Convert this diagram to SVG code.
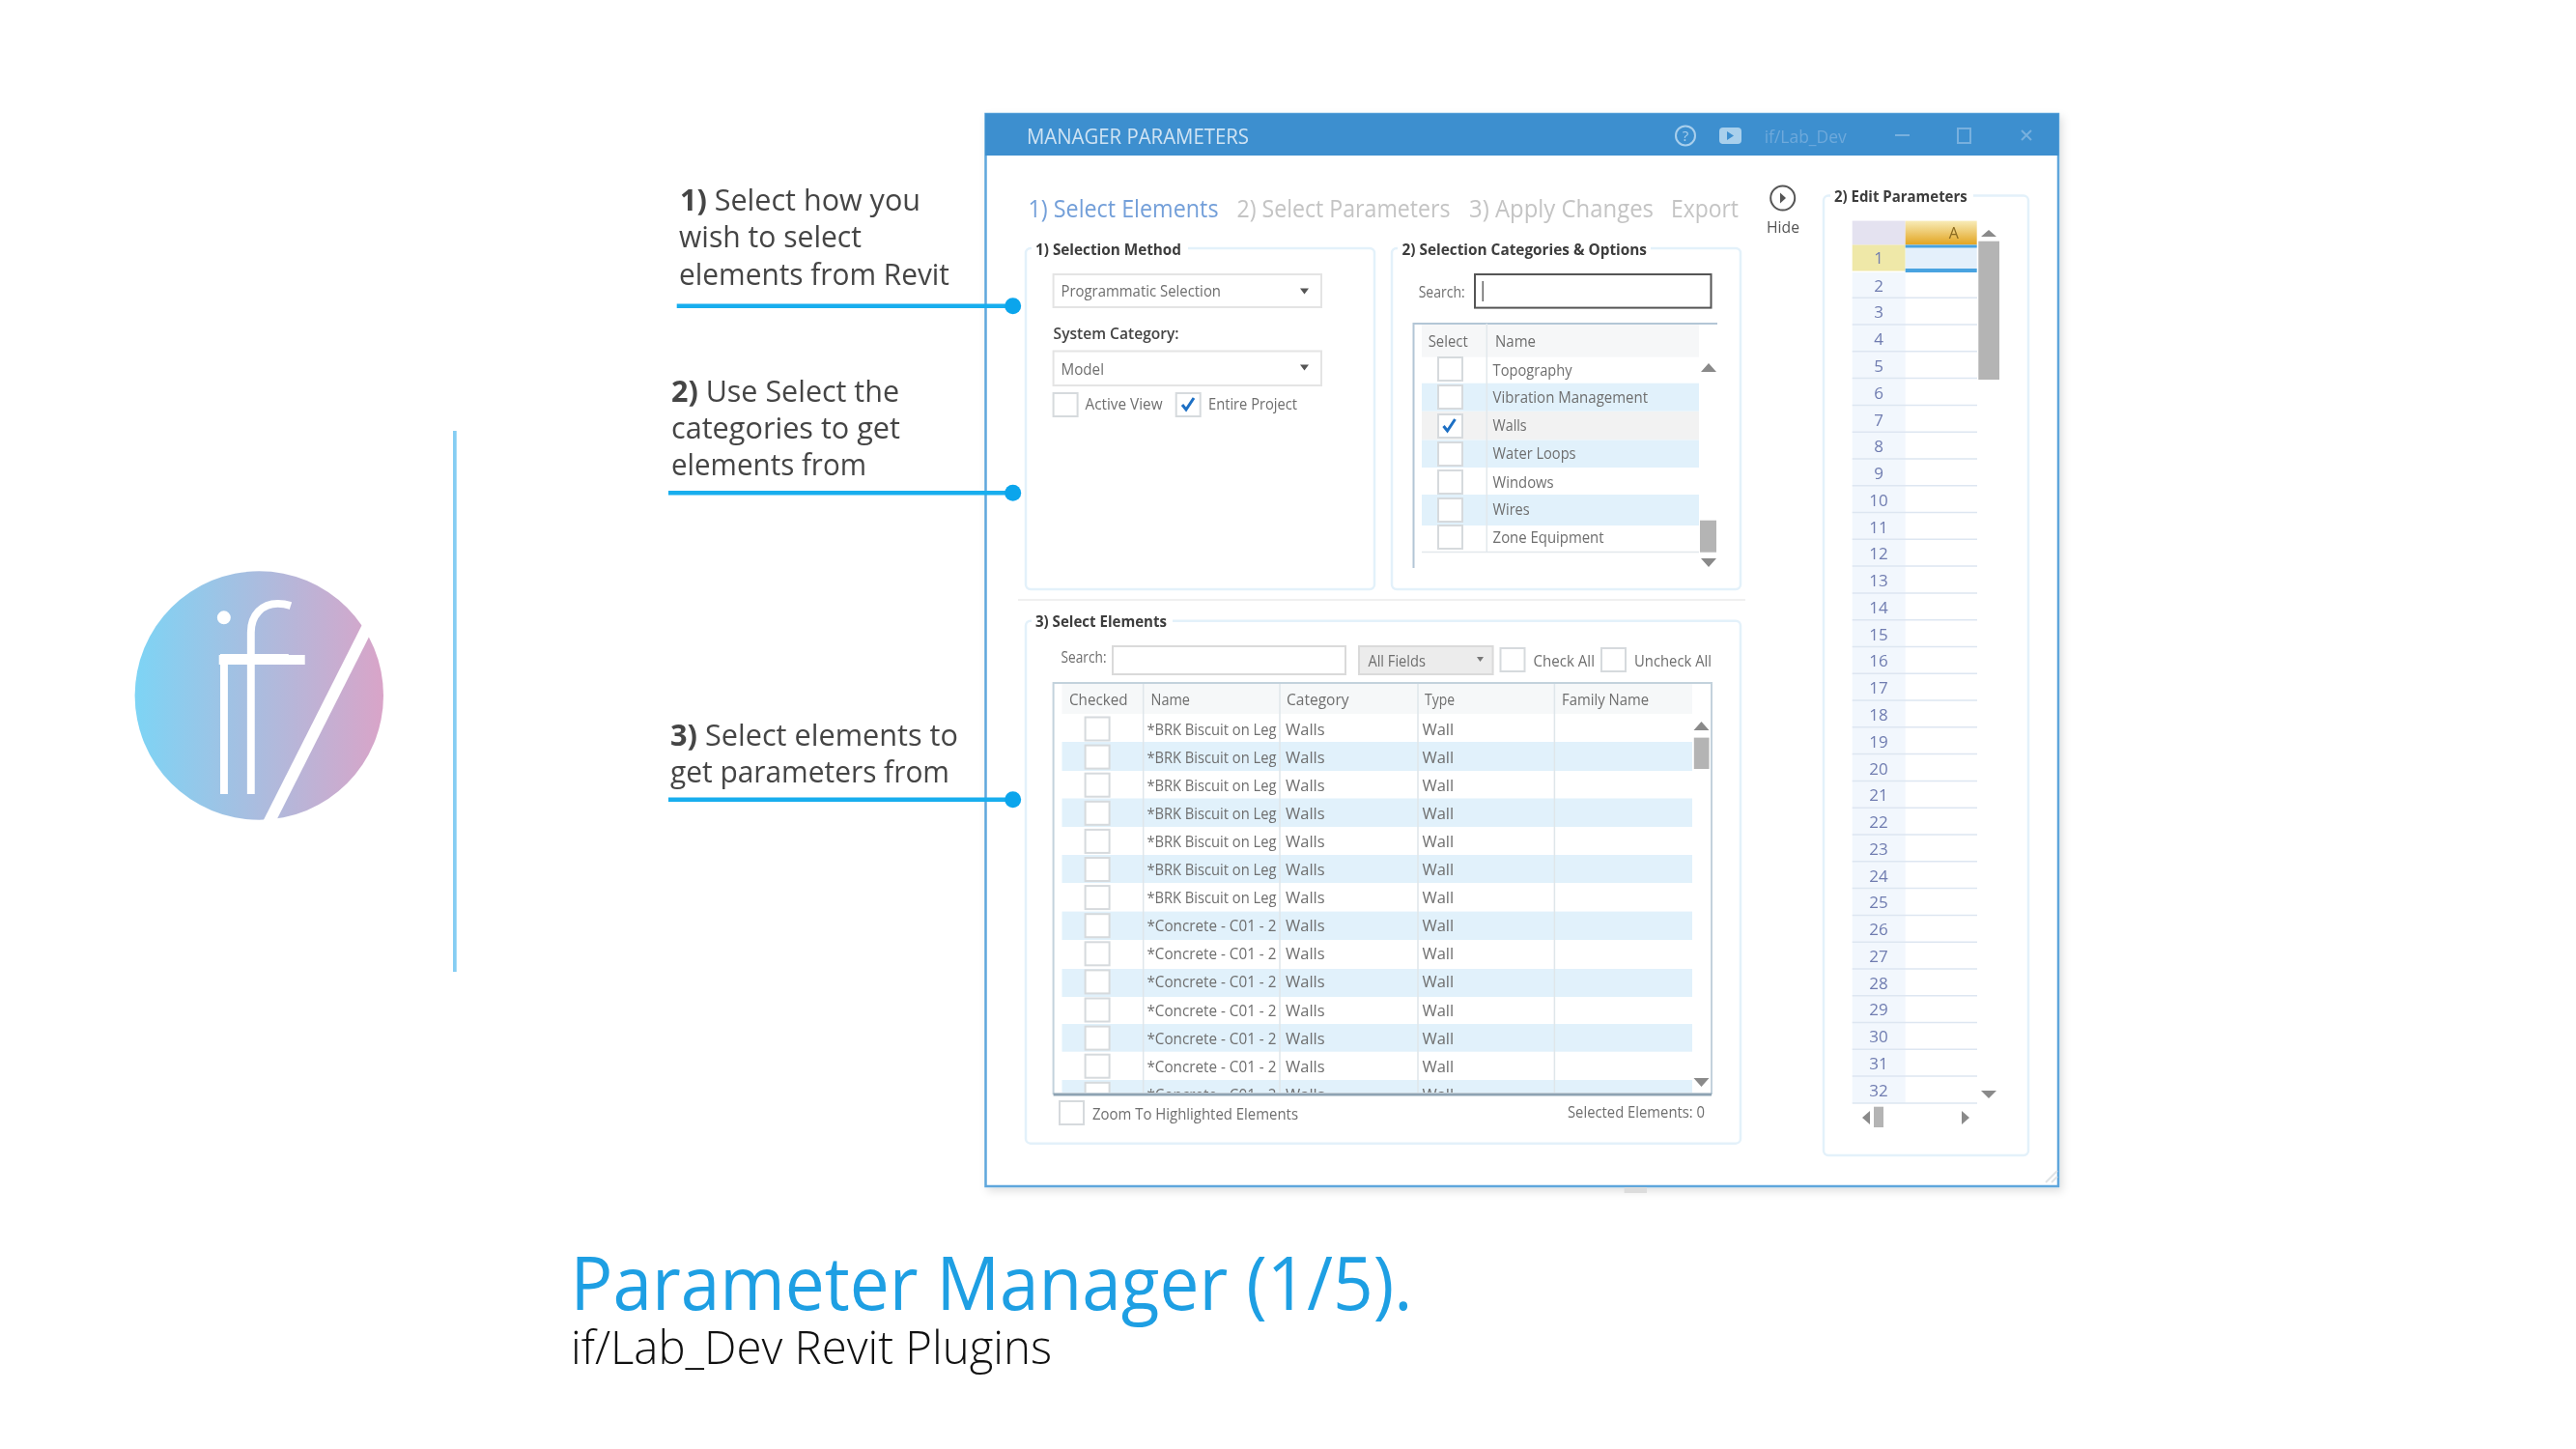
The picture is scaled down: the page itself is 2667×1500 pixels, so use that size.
<svg xmlns="http://www.w3.org/2000/svg" xmlns:xlink="http://www.w3.org/1999/xlink" width="2667" height="1500" viewBox="0 0 2667 1500">
<style>
text{font-family:"Open Sans","Noto Sans","Liberation Sans",sans-serif}
.call{font-size:31px;fill:#454545}
.bold{font-weight:700}
.ui{font-size:16.5px;fill:#6e6e6e}
.hd{font-size:16px;font-weight:700;fill:#3c3c3c}
.tab{font-size:25px;fill:#c4c4c4}
.num{font-size:17px;fill:#6f7cb0;text-anchor:middle}
.panel{fill:#fff;stroke:#e3f1fa;stroke-width:2.5}
.cb{fill:#fff;stroke:#d6dadd;stroke-width:2}
.blue{fill:#e1f1fb}
.tri{fill:#8a8a8a}
.conn{stroke:#18aeee;stroke-width:4.5;fill:none}
.dot{fill:#0ba5ec}
</style>
<defs>
<linearGradient id="lg" x1="0" x2="1" y1="0" y2="0"><stop offset="0" stop-color="#7dd4f5"/><stop offset="1" stop-color="#d9a4c8"/></linearGradient>
<linearGradient id="ah" x1="0" x2="0" y1="0" y2="1"><stop offset="0" stop-color="#f8ecb8"/><stop offset="1" stop-color="#e2a41f"/></linearGradient>
<filter id="soft" x="-2%" y="-2%" width="104%" height="104%"><feGaussianBlur stdDeviation="0.75"/></filter>
<filter id="sh" x="-3%" y="-3%" width="106%" height="106%"><feDropShadow dx="3" dy="4" stdDeviation="4" flood-color="#000" flood-opacity="0.12"/></filter>
<clipPath id="gridclip"><rect x="1091" y="707" width="681" height="424"/></clipPath>
<rect id="c" class="cb" width="25" height="24"/>
</defs>
<rect width="2667" height="1500" fill="#fff"/>

<g id="logo">
<circle cx="268.3" cy="720" r="128.7" fill="url(#lg)"/>
<text x="203.7 227.7" y="821" stroke="#fff" stroke-width="2" style="font-family:Inter,Lato,sans-serif;font-weight:100;font-size:262px;fill:#fff">if</text>
<rect x="226.7" y="678" width="89" height="10" fill="#fff"/>
<line x1="385" y1="640" x2="273" y2="862" stroke="#fff" stroke-width="12"/>
</g>
<rect id="divider" x="469" y="446" width="3.7" height="560" fill="#85cdf3"/>

<g id="window" filter="url(#sh)">
<rect x="1020.5" y="118" width="1110.5" height="1110" fill="#fff" stroke="#5ea6dc" stroke-width="2.5"/>
</g>
<g id="ui" filter="url(#soft)">
<g id="titlebar">
<rect x="1020" y="117.5" width="1111.5" height="43.5" fill="#3d8fcf"/>
<text x="1063" y="149" font-size="21" fill="#cfe3f3" textLength="230" lengthAdjust="spacingAndGlyphs">MANAGER PARAMETERS</text>
<ellipse cx="1745" cy="140.4" rx="10" ry="10" fill="none" stroke="#a9cfec" stroke-width="2"/>
<text x="1745" y="146" font-size="15" fill="#a9cfec" text-anchor="middle">?</text>
<rect x="1780" y="132" width="23" height="17" rx="4" fill="#a9d0ec"/>
<path d="M1788 136l7 4.5-7 4.5z" fill="#3d8fcf"/>
<text x="1826.7" y="148" font-size="19" fill="#6ea9db" textLength="85" lengthAdjust="spacingAndGlyphs">if/Lab_Dev</text>
<rect x="1962" y="139" width="15" height="2" fill="#78b0de"/>
<rect x="2027" y="133" width="13" height="15" fill="none" stroke="#78b0de" stroke-width="2"/>
<path d="M2093 135l10 10M2103 135l-10 10" stroke="#78b0de" stroke-width="2" fill="none"/>
</g>
<g id="tabs">
<text class="tab" x="1064.5" y="225" style="fill:#739fd9" textLength="197" lengthAdjust="spacingAndGlyphs">1) Select Elements</text>
<text class="tab" x="1280.5" y="225" textLength="221" lengthAdjust="spacingAndGlyphs">2) Select Parameters</text>
<text class="tab" x="1521" y="225" textLength="191" lengthAdjust="spacingAndGlyphs">3) Apply Changes</text>
<text class="tab" x="1730" y="225" textLength="70" lengthAdjust="spacingAndGlyphs">Export</text>
</g>
<g id="hide">
<circle cx="1845.7" cy="205" r="12.5" fill="none" stroke="#555" stroke-width="2"/>
<path d="M1843 199.5l6 5.5-6 5.5z" fill="#555"/>
<text x="1829" y="241" font-size="17" fill="#555" textLength="34" lengthAdjust="spacingAndGlyphs">Hide</text>
</g>
<path d="M1054 621H1807" stroke="#f0f0f0" stroke-width="2"/>

<g id="selection-method">
<rect class="panel" x="1062" y="257" width="361" height="353" rx="5"/>
<rect x="1068" y="250" width="162" height="14" fill="#fff"/>
<text class="hd" x="1072" y="264" textLength="151" lengthAdjust="spacingAndGlyphs">1) Selection Method</text>
<rect x="1090.6" y="284" width="277.4" height="34" fill="#fff" stroke="#e4e4e4" stroke-width="2"/>
<text class="ui" x="1098.5" y="307" textLength="165.5" lengthAdjust="spacingAndGlyphs">Programmatic Selection</text>
<path d="M1346 298.5h9l-4.5 6z" fill="#555"/>
<text class="ui" x="1090.6" y="350.7" style="font-weight:600;fill:#444" textLength="130" lengthAdjust="spacingAndGlyphs">System Category:</text>
<rect x="1090.6" y="363.5" width="277.4" height="35.5" fill="#fff" stroke="#e4e4e4" stroke-width="2"/>
<text class="ui" x="1098.5" y="388" textLength="44.5" lengthAdjust="spacingAndGlyphs">Model</text>
<path d="M1346 377.5h9l-4.5 6z" fill="#555"/>
<use href="#c" x="1090.6" y="407"/>
<text class="ui" x="1123.5" y="424.4" textLength="80" lengthAdjust="spacingAndGlyphs">Active View</text>
<use href="#c" x="1217.7" y="407"/>
<path d="M1224 419l4 5 8-12" fill="none" stroke="#1f6fc4" stroke-width="3"/>
<text class="ui" x="1251" y="424.4" textLength="92" lengthAdjust="spacingAndGlyphs">Entire Project</text>
</g>

<g id="selection-categories">
<rect class="panel" x="1441" y="257" width="361" height="353" rx="5"/>
<rect x="1447" y="250" width="262" height="14" fill="#fff"/>
<text class="hd" x="1451.5" y="264" textLength="253.5" lengthAdjust="spacingAndGlyphs">2) Selection Categories &amp; Options</text>
<text class="ui" x="1468.7" y="307.8" textLength="48" lengthAdjust="spacingAndGlyphs">Search:</text>
<rect x="1527" y="284" width="244.5" height="34.6" fill="#fff" stroke="#555" stroke-width="2"/>
<rect x="1534.5" y="291" width="1.5" height="21" fill="#666"/>
<rect x="1472" y="335" width="287" height="34.6" fill="#f6f7f8"/>
<rect class="blue" x="1472" y="396.7" width="287" height="29"/>
<rect x="1472" y="426" width="287" height="29.5" fill="#f2f2f2"/>
<rect class="blue" x="1472" y="455.5" width="287" height="28.5"/>
<rect class="blue" x="1472" y="512" width="287" height="32"/>
<path d="M1463.5 588V335H1778" fill="none" stroke="#b3c6d6" stroke-width="2"/>
<path d="M1539.3 335V571.5M1472 571.5H1759" stroke="#e2e8ec" stroke-width="1.5" fill="none"/>
<text class="ui" x="1478.7" y="358.5" textLength="41" lengthAdjust="spacingAndGlyphs">Select</text>
<text class="ui" x="1548" y="358.5" textLength="42" lengthAdjust="spacingAndGlyphs">Name</text>
<use href="#c" x="1489" y="370"/><use href="#c" x="1489" y="399"/><use href="#c" x="1489" y="429"/><use href="#c" x="1489" y="458"/><use href="#c" x="1489" y="487"/><use href="#c" x="1489" y="516"/><use href="#c" x="1489" y="544"/>
<path d="M1494.5 441l4 5 8-12" fill="none" stroke="#1f6fc4" stroke-width="3"/>
<text class="ui" x="1545.6" y="389" textLength="82" lengthAdjust="spacingAndGlyphs">Topography</text>
<text class="ui" x="1545.6" y="417" textLength="160.5" lengthAdjust="spacingAndGlyphs">Vibration Management</text>
<text class="ui" x="1545.6" y="446" textLength="35" lengthAdjust="spacingAndGlyphs">Walls</text>
<text class="ui" x="1545.6" y="475" textLength="86" lengthAdjust="spacingAndGlyphs">Water Loops</text>
<text class="ui" x="1545.6" y="504.5" textLength="63" lengthAdjust="spacingAndGlyphs">Windows</text>
<text class="ui" x="1545.6" y="533" textLength="38" lengthAdjust="spacingAndGlyphs">Wires</text>
<text class="ui" x="1545.6" y="562" textLength="115" lengthAdjust="spacingAndGlyphs">Zone Equipment</text>
<rect x="1760" y="538.7" width="17" height="33" fill="#b4b4b4"/>
<path class="tri" d="M1761 385h16l-8-9zM1761 578h16l-8 9z"/>
</g>

<g id="select-elements">
<rect class="panel" x="1062" y="642.7" width="740" height="541" rx="5"/>
<rect x="1068" y="636" width="146" height="14" fill="#fff"/>
<text class="hd" x="1072" y="649" textLength="136" lengthAdjust="spacingAndGlyphs">3) Select Elements</text>
<text class="ui" x="1098.5" y="686" textLength="47" lengthAdjust="spacingAndGlyphs">Search:</text>
<rect x="1152" y="669" width="241" height="29" fill="#fff" stroke="#dadada" stroke-width="2"/>
<rect x="1407" y="669" width="138.6" height="29" fill="#ececec" stroke="#dadada" stroke-width="2"/>
<text class="ui" x="1416.4" y="690" textLength="59.6" lengthAdjust="spacingAndGlyphs">All Fields</text>
<path d="M1529 680h7l-3.5 5z" fill="#777"/>
<use href="#c" x="1553.5" y="671"/>
<text class="ui" x="1587.5" y="690" textLength="63.5" lengthAdjust="spacingAndGlyphs">Check All</text>
<use href="#c" x="1658" y="671"/>
<text class="ui" x="1692" y="690" textLength="80" lengthAdjust="spacingAndGlyphs">Uncheck All</text>
<rect x="1099.5" y="707" width="652.5" height="32" fill="#f6f8f9"/>
<g clip-path="url(#gridclip)">
<rect class="blue" x="1099.5" y="768" width="652.5" height="30"/>
<rect class="blue" x="1099.5" y="826.5" width="652.5" height="29.5"/>
<rect class="blue" x="1099.5" y="885" width="652.5" height="29"/>
<rect class="blue" x="1099.5" y="943.6" width="652.5" height="29.4"/>
<rect class="blue" x="1099.5" y="1003" width="652.5" height="29"/>
<rect class="blue" x="1099.5" y="1060" width="652.5" height="28.7"/>
<rect class="blue" x="1099.5" y="1118" width="652.5" height="15"/>
<path d="M1183.7 707V1133M1325 707V1133M1468 707V1133M1609.4 707V1133" stroke="#dfe6ea" stroke-width="1.5" fill="none"/>
<use href="#c" x="1123.6" y="742.5"/><use href="#c" x="1123.6" y="771.6"/><use href="#c" x="1123.6" y="800.7"/><use href="#c" x="1123.6" y="829.8"/><use href="#c" x="1123.6" y="858.9"/><use href="#c" x="1123.6" y="888"/><use href="#c" x="1123.6" y="917.1"/><use href="#c" x="1123.6" y="946.2"/><use href="#c" x="1123.6" y="975.3"/><use href="#c" x="1123.6" y="1004.4"/><use href="#c" x="1123.6" y="1033.5"/><use href="#c" x="1123.6" y="1062.6"/><use href="#c" x="1123.6" y="1091.7"/><use href="#c" x="1123.6" y="1120.8"/>
<text class="ui" x="1187.4" y="760.5" textLength="134" lengthAdjust="spacingAndGlyphs">*BRK Biscuit on Leg</text>
<text class="ui" x="1187.4" y="789.6" textLength="134" lengthAdjust="spacingAndGlyphs">*BRK Biscuit on Leg</text>
<text class="ui" x="1187.4" y="818.7" textLength="134" lengthAdjust="spacingAndGlyphs">*BRK Biscuit on Leg</text>
<text class="ui" x="1187.4" y="847.8" textLength="134" lengthAdjust="spacingAndGlyphs">*BRK Biscuit on Leg</text>
<text class="ui" x="1187.4" y="876.9" textLength="134" lengthAdjust="spacingAndGlyphs">*BRK Biscuit on Leg</text>
<text class="ui" x="1187.4" y="906" textLength="134" lengthAdjust="spacingAndGlyphs">*BRK Biscuit on Leg</text>
<text class="ui" x="1187.4" y="935.1" textLength="134" lengthAdjust="spacingAndGlyphs">*BRK Biscuit on Leg</text>
<text class="ui" x="1187.4" y="964.2" textLength="134" lengthAdjust="spacingAndGlyphs">*Concrete - C01 - 2</text>
<text class="ui" x="1187.4" y="993.3" textLength="134" lengthAdjust="spacingAndGlyphs">*Concrete - C01 - 2</text>
<text class="ui" x="1187.4" y="1022.4" textLength="134" lengthAdjust="spacingAndGlyphs">*Concrete - C01 - 2</text>
<text class="ui" x="1187.4" y="1051.5" textLength="134" lengthAdjust="spacingAndGlyphs">*Concrete - C01 - 2</text>
<text class="ui" x="1187.4" y="1080.6" textLength="134" lengthAdjust="spacingAndGlyphs">*Concrete - C01 - 2</text>
<text class="ui" x="1187.4" y="1109.7" textLength="134" lengthAdjust="spacingAndGlyphs">*Concrete - C01 - 2</text>
<text class="ui" x="1187.4" y="1138.8" textLength="134" lengthAdjust="spacingAndGlyphs">*Concrete - C01 - 2</text>
<text class="ui" x="1331" y="760.5">Walls</text><text class="ui" x="1472.4" y="760.5">Wall</text>
<text class="ui" x="1331" y="789.6">Walls</text><text class="ui" x="1472.4" y="789.6">Wall</text>
<text class="ui" x="1331" y="818.7">Walls</text><text class="ui" x="1472.4" y="818.7">Wall</text>
<text class="ui" x="1331" y="847.8">Walls</text><text class="ui" x="1472.4" y="847.8">Wall</text>
<text class="ui" x="1331" y="876.9">Walls</text><text class="ui" x="1472.4" y="876.9">Wall</text>
<text class="ui" x="1331" y="906">Walls</text><text class="ui" x="1472.4" y="906">Wall</text>
<text class="ui" x="1331" y="935.1">Walls</text><text class="ui" x="1472.4" y="935.1">Wall</text>
<text class="ui" x="1331" y="964.2">Walls</text><text class="ui" x="1472.4" y="964.2">Wall</text>
<text class="ui" x="1331" y="993.3">Walls</text><text class="ui" x="1472.4" y="993.3">Wall</text>
<text class="ui" x="1331" y="1022.4">Walls</text><text class="ui" x="1472.4" y="1022.4">Wall</text>
<text class="ui" x="1331" y="1051.5">Walls</text><text class="ui" x="1472.4" y="1051.5">Wall</text>
<text class="ui" x="1331" y="1080.6">Walls</text><text class="ui" x="1472.4" y="1080.6">Wall</text>
<text class="ui" x="1331" y="1109.7">Walls</text><text class="ui" x="1472.4" y="1109.7">Wall</text>
<text class="ui" x="1331" y="1138.8">Walls</text><text class="ui" x="1472.4" y="1138.8">Wall</text>
</g>
<text class="ui" x="1107" y="729.6" textLength="60.5" lengthAdjust="spacingAndGlyphs">Checked</text>
<text class="ui" x="1191.5" y="729.6" textLength="40.5" lengthAdjust="spacingAndGlyphs">Name</text>
<text class="ui" x="1332" y="729.6" textLength="64.6" lengthAdjust="spacingAndGlyphs">Category</text>
<text class="ui" x="1475" y="729.6" textLength="31" lengthAdjust="spacingAndGlyphs">Type</text>
<text class="ui" x="1617" y="729.6" textLength="90" lengthAdjust="spacingAndGlyphs">Family Name</text>
<path d="M1090.6 1133V707H1772V1133" fill="none" stroke="#c3d2dc" stroke-width="2"/>
<path d="M1090.6 1133H1772" stroke="#8ea3b3" stroke-width="3"/>
<rect x="1753.8" y="763.6" width="15.7" height="32.4" fill="#b4b4b4"/>
<path class="tri" d="M1753.5 756h16l-8-9zM1753.5 1116h16l-8 9z"/>
<use href="#c" x="1097" y="1140"/>
<text class="ui" x="1131" y="1159" textLength="213" lengthAdjust="spacingAndGlyphs">Zoom To Highlighted Elements</text>
<text class="ui" x="1623" y="1157" textLength="142" lengthAdjust="spacingAndGlyphs">Selected Elements: 0</text>
</g>

<g id="edit-parameters">
<rect class="panel" x="1888" y="202.6" width="212" height="993.4" rx="5"/>
<rect x="1895" y="196" width="148" height="14" fill="#fff"/>
<text class="hd" x="1899" y="208.7" textLength="137.7" lengthAdjust="spacingAndGlyphs">2) Edit Parameters</text>
<rect x="1917.7" y="228.6" width="55" height="25" fill="#e4e2f0"/>
<rect x="1972.7" y="228.6" width="74" height="25" fill="url(#ah)"/>
<text x="2022.7" y="247" font-size="16" fill="#8a6a20" text-anchor="middle">A</text>
<rect x="1917.7" y="253.5" width="55" height="27" fill="#efe8a8"/>
<rect x="1972.7" y="253.5" width="74" height="27" fill="#e4f0fb"/>
<rect x="1972.7" y="253.5" width="74" height="3" fill="#4aa3e0"/>
<rect x="1972.7" y="278" width="74" height="4" fill="#4aa3e0"/>
<rect x="1917.7" y="282" width="55" height="860" fill="#f2f7fd"/>
<path d="M1917.7 308.2H2047M1917.7 336H2047M1917.7 363.8H2047M1917.7 391.6H2047M1917.7 419.4H2047M1917.7 447.2H2047M1917.7 475H2047M1917.7 502.7H2047M1917.7 530.5H2047M1917.7 558.3H2047M1917.7 586.1H2047M1917.7 613.9H2047M1917.7 641.7H2047M1917.7 669.5H2047M1917.7 697.3H2047M1917.7 725.1H2047M1917.7 752.8H2047M1917.7 780.6H2047M1917.7 808.4H2047M1917.7 836.2H2047M1917.7 864H2047M1917.7 891.8H2047M1917.7 919.6H2047M1917.7 947.4H2047M1917.7 975.2H2047M1917.7 1003H2047M1917.7 1030.7H2047M1917.7 1058.5H2047M1917.7 1086.3H2047M1917.7 1114.1H2047M1917.7 1141.9H2047" stroke="#dde6f1" stroke-width="1.5" fill="none"/>
<text class="num" x="1945" y="273">1</text>
<text class="num" x="1945" y="301.6">2</text><text class="num" x="1945" y="329.4">3</text><text class="num" x="1945" y="357.1">4</text><text class="num" x="1945" y="384.9">5</text><text class="num" x="1945" y="412.7">6</text><text class="num" x="1945" y="440.5">7</text><text class="num" x="1945" y="468.2">8</text><text class="num" x="1945" y="496">9</text><text class="num" x="1945" y="523.8">10</text><text class="num" x="1945" y="551.5">11</text><text class="num" x="1945" y="579.3">12</text><text class="num" x="1945" y="607.1">13</text><text class="num" x="1945" y="634.8">14</text><text class="num" x="1945" y="662.6">15</text><text class="num" x="1945" y="690.4">16</text><text class="num" x="1945" y="718.2">17</text><text class="num" x="1945" y="745.9">18</text><text class="num" x="1945" y="773.7">19</text><text class="num" x="1945" y="801.5">20</text><text class="num" x="1945" y="829.2">21</text><text class="num" x="1945" y="857">22</text><text class="num" x="1945" y="884.8">23</text><text class="num" x="1945" y="912.5">24</text><text class="num" x="1945" y="940.3">25</text><text class="num" x="1945" y="968.1">26</text><text class="num" x="1945" y="995.9">27</text><text class="num" x="1945" y="1023.6">28</text><text class="num" x="1945" y="1051.4">29</text><text class="num" x="1945" y="1079.2">30</text><text class="num" x="1945" y="1106.9">31</text><text class="num" x="1945" y="1134.7">32</text>
<rect x="2048.3" y="249.7" width="21.7" height="143.3" fill="#b4b4b4"/>
<rect x="1940" y="1145.7" width="10" height="21.3" fill="#b4b4b4"/>
<path class="tri" d="M2051 245h16l-8-7zM2051 1129h16l-8 8zM1936 1150v14l-8-7zM2031 1150v14l8-7z"/>
<path d="M2130 1212l-12 12M2130 1218l-6 6" stroke="#dfe3e6" stroke-width="2" fill="none"/>
</g>
<rect x="1681.6" y="1229" width="23.4" height="6" fill="#dcdcdc"/>
</g>

<g id="connectors">
<path class="conn" d="M700.7 316.7H1048.7M692 510.3H1048.7M692 827.7H1048.7"/>
<circle class="dot" cx="1048.7" cy="316.7" r="8.5"/>
<circle class="dot" cx="1048.7" cy="510.3" r="8.5"/>
<circle class="dot" cx="1048.7" cy="827.7" r="8.5"/>
</g>

<g id="callout-1">
<text class="call" x="704" y="218.3" textLength="249" lengthAdjust="spacingAndGlyphs"><tspan class="bold">1)</tspan> Select how you</text>
<text class="call" x="703" y="256" textLength="189" lengthAdjust="spacingAndGlyphs">wish to select</text>
<text class="call" x="703" y="295" textLength="280" lengthAdjust="spacingAndGlyphs">elements from Revit</text>
</g>
<g id="callout-2">
<text class="call" x="695" y="416" textLength="236" lengthAdjust="spacingAndGlyphs"><tspan class="bold">2)</tspan> Use Select the</text>
<text class="call" x="695" y="454" textLength="237" lengthAdjust="spacingAndGlyphs">categories to get</text>
<text class="call" x="695" y="491.7" textLength="202" lengthAdjust="spacingAndGlyphs">elements from</text>
</g>
<g id="callout-3">
<text class="call" x="694" y="772" textLength="298" lengthAdjust="spacingAndGlyphs"><tspan class="bold">3)</tspan> Select elements to</text>
<text class="call" x="694" y="809.6" textLength="289" lengthAdjust="spacingAndGlyphs">get parameters from</text>
</g>

<g id="caption">
<text x="590.5" y="1356" font-size="76" fill="#1e9fe3" textLength="872" lengthAdjust="spacingAndGlyphs">Parameter Manager (1/5).</text>
<text x="591" y="1411.7" font-size="47" font-weight="300" fill="#111" textLength="498" lengthAdjust="spacingAndGlyphs">if/Lab_Dev Revit Plugins</text>
</g>
</svg>
